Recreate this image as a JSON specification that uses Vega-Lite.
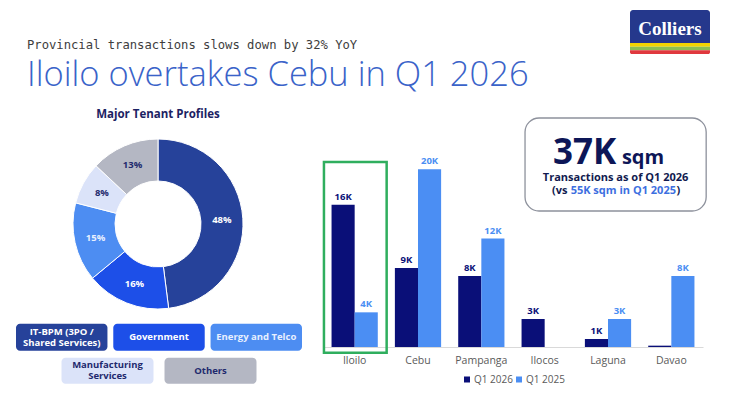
{
  "$schema": "https://vega.github.io/schema/vega-lite/v6.json",
  "background": "white",
  "padding": {"left": 16, "top": 10, "right": 0, "bottom": 0},
  "config": {"view": {"stroke": null}, "font": "Open Sans"},
  "datasets": {
    "tenants": [
      {"category": "IT-BPM (3PO / Shared Services)", "label": "IT-BPM (3PO /\nShared Services)", "share": 0.48, "rank": 1},
      {"category": "Government", "label": "Government", "share": 0.16, "rank": 2},
      {"category": "Energy and Telco", "label": "Energy and Telco", "share": 0.15, "rank": 3},
      {"category": "Manufacturing Services", "label": "Manufacturing\nServices", "share": 0.08, "rank": 4},
      {"category": "Others", "label": "Others", "share": 0.13, "rank": 5}
    ],
    "transactions": [
      {"province": "Iloilo", "period": "Q1 2026", "sqm_k": 16.0, "label": "16K"},
      {"province": "Iloilo", "period": "Q1 2025", "sqm_k": 3.9, "label": "4K"},
      {"province": "Cebu", "period": "Q1 2026", "sqm_k": 8.9, "label": "9K"},
      {"province": "Cebu", "period": "Q1 2025", "sqm_k": 20.0, "label": "20K"},
      {"province": "Pampanga", "period": "Q1 2026", "sqm_k": 8.0, "label": "8K"},
      {"province": "Pampanga", "period": "Q1 2025", "sqm_k": 12.2, "label": "12K"},
      {"province": "Ilocos", "period": "Q1 2026", "sqm_k": 3.15, "label": "3K"},
      {"province": "Ilocos", "period": "Q1 2025", "sqm_k": 0, "label": ""},
      {"province": "Laguna", "period": "Q1 2026", "sqm_k": 0.9, "label": "1K"},
      {"province": "Laguna", "period": "Q1 2025", "sqm_k": 3.15, "label": "3K"},
      {"province": "Davao", "period": "Q1 2026", "sqm_k": 0.15, "label": ""},
      {"province": "Davao", "period": "Q1 2025", "sqm_k": 8.0, "label": "8K"}
    ]
  },
  "spacing": 16,
  "resolve": {"scale": {"color": "independent", "fill": "independent"}},
  "vconcat": [
    {
      "bounds": "flush",
      "spacing": 14,
      "hconcat": [
        {
          "width": 600,
          "height": 82,
          "title": {
            "text": "Provincial transactions slows down by 32% YoY",
            "subtitle": "Iloilo overtakes Cebu in Q1 2026",
            "anchor": "start",
            "orient": "top",
            "frame": "group",
            "offset": -82,
            "dx": 11,
            "font": "DejaVu Sans Mono",
            "fontSize": 12.2,
            "fontWeight": "normal",
            "color": "#3d3d3d",
            "subtitleFont": "Open Sans",
            "subtitleFontSize": 34.5,
            "subtitleFontWeight": 300,
            "subtitleColor": "#3a63c9",
            "subtitlePadding": 7
          },
          "data": {"values": [{}]},
          "mark": {"type": "text"},
          "encoding": {"text": {"value": ""}}
        },
        {
          "width": 80,
          "height": 44,
          "data": {"values": [{"brand": "Colliers"}]},
          "layer": [
            {
              "mark": {"type": "rect", "color": "#25388c", "cornerRadiusTopLeft": 3, "cornerRadiusTopRight": 3},
              "encoding": {
                "x": {"datum": 0, "type": "quantitative", "scale": {"domain": [0, 1], "nice": false}, "axis": null},
                "x2": {"datum": 1},
                "y": {"datum": 44, "type": "quantitative", "scale": {"domain": [0, 44], "nice": false}, "axis": null},
                "y2": {"datum": 11}
              }
            },
            {
              "mark": {"type": "rect", "color": "#f2d500"},
              "encoding": {"x": {"datum": 0, "type": "quantitative"}, "x2": {"datum": 1}, "y": {"datum": 11, "type": "quantitative"}, "y2": {"datum": 7.3}}
            },
            {
              "mark": {"type": "rect", "color": "#8cc152"},
              "encoding": {"x": {"datum": 0, "type": "quantitative"}, "x2": {"datum": 1}, "y": {"datum": 7.3, "type": "quantitative"}, "y2": {"datum": 3.7}}
            },
            {
              "mark": {"type": "rect", "color": "#e0383e", "cornerRadiusBottomLeft": 3, "cornerRadiusBottomRight": 3},
              "encoding": {"x": {"datum": 0, "type": "quantitative"}, "x2": {"datum": 1}, "y": {"datum": 3.7, "type": "quantitative"}, "y2": {"datum": 0}}
            },
            {
              "mark": {"type": "text", "font": "Liberation Serif", "fontSize": 19, "fontWeight": "bold", "color": "white", "baseline": "alphabetic", "align": "center"},
              "encoding": {"x": {"datum": 0.5, "type": "quantitative"}, "y": {"datum": 19, "type": "quantitative"}, "text": {"field": "brand"}}
            }
          ]
        }
      ]
    },
    {
      "spacing": 20,
      "resolve": {"scale": {"color": "independent", "fill": "independent"}},
      "hconcat": [
        {
          "center": true,
          "spacing": 12.7,
          "vconcat": [
            {
              "width": 170,
              "height": 170,
              "title": {"text": "Major Tenant Profiles", "fontSize": 11.5, "fontWeight": "bold", "color": "#1c2263", "offset": 17, "anchor": "middle"},
              "data": {"name": "tenants"},
              "encoding": {
                "theta": {"field": "share", "type": "quantitative", "stack": true},
                "order": {"field": "rank", "type": "quantitative"}
              },
              "layer": [
                {
                  "mark": {"type": "arc", "outerRadius": 85, "innerRadius": 43, "stroke": "white", "strokeWidth": 1},
                  "encoding": {
                    "color": {"field": "category", "type": "nominal", "legend": null,
                      "scale": {"domain": ["IT-BPM (3PO / Shared Services)", "Government", "Energy and Telco", "Manufacturing Services", "Others"],
                        "range": ["#26429a", "#1d4fe8", "#4d8df2", "#dbe3f9", "#b4b7c3"]}}
                  }
                },
                {
                  "mark": {"type": "text", "radius": 64, "fontSize": 9.5, "fontWeight": "bold"},
                  "encoding": {
                    "text": {"field": "share", "type": "quantitative", "format": ".0%"},
                    "fill": {"field": "category", "type": "nominal", "legend": null,
                      "scale": {"domain": ["IT-BPM (3PO / Shared Services)", "Government", "Energy and Telco", "Manufacturing Services", "Others"],
                        "range": ["#ffffff", "#ffffff", "#e8f0ff", "#1f2a6e", "#1f2a6e"]}}
                  }
                }
              ]
            },
            {
              "bounds": "flush",
              "center": true,
              "spacing": 7,
              "vconcat": [
                {
                  "width": 286,
                  "height": 27,
                  "data": {"name": "tenants"},
                  "transform": [{"filter": {"field": "category", "oneOf": ["IT-BPM (3PO / Shared Services)", "Government", "Energy and Telco"]}}],
                  "encoding": {
                    "x": {"field": "category", "type": "nominal", "axis": null,
                      "scale": {"domain": ["IT-BPM (3PO / Shared Services)", "Government", "Energy and Telco"], "paddingInner": 0.06, "paddingOuter": 0}}
                  },
                  "layer": [
                    {
                      "mark": {"type": "rect", "cornerRadius": 4},
                      "encoding": {
                        "y": {"datum": 0, "type": "quantitative", "scale": {"domain": [0, 1], "nice": false}, "axis": null},
                        "y2": {"datum": 1},
                        "color": {"field": "category", "type": "nominal", "legend": null,
                          "scale": {"domain": ["IT-BPM (3PO / Shared Services)", "Government", "Energy and Telco", "Manufacturing Services", "Others"],
                            "range": ["#26429a", "#1d4fe8", "#4d8df2", "#dbe3f9", "#b4b7c3"]}}
                      }
                    },
                    {
                      "transform": [{"filter": "indexof(datum.label, '\\n') < 0"}],
                      "mark": {"type": "text", "fontSize": 9.5, "fontWeight": "bold", "baseline": "middle"},
                      "encoding": {
                        "y": {"datum": 0.5, "type": "quantitative"},
                        "text": {"field": "label"},
                        "fill": {"field": "category", "type": "nominal", "legend": null,
                          "scale": {"domain": ["IT-BPM (3PO / Shared Services)", "Government", "Energy and Telco", "Manufacturing Services", "Others"],
                            "range": ["#ffffff", "#ffffff", "#e8f0ff", "#1f2a6e", "#1f2a6e"]}}
                      }
                    },
                    {
                      "transform": [{"filter": "indexof(datum.label, '\\n') >= 0"}],
                      "mark": {"type": "text", "fontSize": 9.5, "fontWeight": "bold", "lineBreak": "\n", "lineHeight": 11, "baseline": "middle", "dy": -5.5},
                      "encoding": {
                        "y": {"datum": 0.5, "type": "quantitative"},
                        "text": {"field": "label"},
                        "fill": {"field": "category", "type": "nominal", "legend": null,
                          "scale": {"domain": ["IT-BPM (3PO / Shared Services)", "Government", "Energy and Telco", "Manufacturing Services", "Others"],
                            "range": ["#ffffff", "#ffffff", "#e8f0ff", "#1f2a6e", "#1f2a6e"]}}
                      }
                    }
                  ]
                },
                {
                  "width": 195,
                  "height": 26,
                  "data": {"name": "tenants"},
                  "transform": [{"filter": {"field": "category", "oneOf": ["Manufacturing Services", "Others"]}}],
                  "encoding": {
                    "x": {"field": "category", "type": "nominal", "axis": null,
                      "scale": {"domain": ["Manufacturing Services", "Others"], "paddingInner": 0.107, "paddingOuter": 0}}
                  },
                  "layer": [
                    {
                      "mark": {"type": "rect", "cornerRadius": 4},
                      "encoding": {
                        "y": {"datum": 0, "type": "quantitative", "scale": {"domain": [0, 1], "nice": false}, "axis": null},
                        "y2": {"datum": 1},
                        "color": {"field": "category", "type": "nominal", "legend": null,
                          "scale": {"domain": ["IT-BPM (3PO / Shared Services)", "Government", "Energy and Telco", "Manufacturing Services", "Others"],
                            "range": ["#26429a", "#1d4fe8", "#4d8df2", "#dbe3f9", "#b4b7c3"]}}
                      }
                    },
                    {
                      "transform": [{"filter": "indexof(datum.label, '\\n') < 0"}],
                      "mark": {"type": "text", "fontSize": 9.5, "fontWeight": "bold", "baseline": "middle"},
                      "encoding": {
                        "y": {"datum": 0.5, "type": "quantitative"},
                        "text": {"field": "label"},
                        "fill": {"field": "category", "type": "nominal", "legend": null,
                          "scale": {"domain": ["IT-BPM (3PO / Shared Services)", "Government", "Energy and Telco", "Manufacturing Services", "Others"],
                            "range": ["#ffffff", "#ffffff", "#e8f0ff", "#1f2a6e", "#1f2a6e"]}}
                      }
                    },
                    {
                      "transform": [{"filter": "indexof(datum.label, '\\n') >= 0"}],
                      "mark": {"type": "text", "fontSize": 9.5, "fontWeight": "bold", "lineBreak": "\n", "lineHeight": 11, "baseline": "middle", "dy": -5.5},
                      "encoding": {
                        "y": {"datum": 0.5, "type": "quantitative"},
                        "text": {"field": "label"},
                        "fill": {"field": "category", "type": "nominal", "legend": null,
                          "scale": {"domain": ["IT-BPM (3PO / Shared Services)", "Government", "Energy and Telco", "Manufacturing Services", "Others"],
                            "range": ["#ffffff", "#ffffff", "#e8f0ff", "#1f2a6e", "#1f2a6e"]}}
                      }
                    }
                  ]
                }
              ]
            }
          ]
        },
        {
          "width": 380,
          "height": 208,
          "resolve": {"scale": {"x": "independent"}},
          "layer": [
            {
              "data": {"name": "transactions"},
              "encoding": {
                "x": {"field": "province", "type": "nominal",
                  "scale": {"domain": ["Iloilo", "Cebu", "Pampanga", "Ilocos", "Laguna", "Davao"], "paddingInner": 0.27, "paddingOuter": 0.135},
                  "axis": {"title": null, "ticks": false, "labelAngle": 0, "labelFontSize": 10.5, "labelColor": "#5a5a5a", "labelPadding": 8, "domainColor": "#d9d9d9"}},
                "xOffset": {"field": "period", "type": "nominal", "scale": {"domain": ["Q1 2026", "Q1 2025"], "paddingInner": 0, "paddingOuter": 0}},
                "y": {"field": "sqm_k", "type": "quantitative", "scale": {"domain": [0, 23.4], "nice": false}, "axis": null},
                "color": {"field": "period", "type": "nominal",
                  "scale": {"domain": ["Q1 2026", "Q1 2025"], "range": ["#0a0f78", "#4b8ef3"]},
                  "legend": {"title": null, "orient": "none", "legendX": 139, "legendY": 235.5, "direction": "horizontal", "symbolType": "square", "symbolSize": 36, "labelFontSize": 10, "labelColor": "#5a5a5a", "columnPadding": 1, "labelOffset": 2}}
              },
              "layer": [
                {"mark": {"type": "bar"}},
                {
                  "mark": {"type": "text", "baseline": "bottom", "dy": -3, "fontSize": 9.5, "fontWeight": "bold"},
                  "encoding": {"text": {"field": "label"}}
                }
              ]
            },
            {
              "data": {"values": [{}]},
              "layer": [
                {
                  "mark": {"type": "rect", "filled": false, "stroke": "#2fae5e", "strokeWidth": 2.5},
                  "encoding": {
                    "x": {"datum": 0.015, "type": "quantitative", "scale": {"domain": [0, 6], "nice": false, "zero": false}, "axis": null},
                    "x2": {"datum": 1.005},
                    "y": {"datum": 20.81, "type": "quantitative"},
                    "y2": {"datum": -0.64}
                  }
                },
                {
                  "mark": {"type": "rect", "filled": false, "stroke": "#8d919c", "strokeWidth": 1.3, "cornerRadius": 14},
                  "encoding": {
                    "x": {"datum": 3.19, "type": "quantitative"},
                    "x2": {"datum": 6.05},
                    "y": {"datum": 25.76, "type": "quantitative"},
                    "y2": {"datum": 15.3}
                  }
                },
                {
                  "mark": {"type": "text", "align": "right", "baseline": "alphabetic", "fontSize": 35, "fontWeight": "bold", "color": "#0d1657"},
                  "encoding": {"x": {"datum": 4.63, "type": "quantitative"}, "y": {"datum": 20.59, "type": "quantitative"}, "text": {"value": "37K"}}
                },
                {
                  "mark": {"type": "text", "align": "left", "baseline": "alphabetic", "fontSize": 20, "fontWeight": "bold", "color": "#0d1657"},
                  "encoding": {"x": {"datum": 4.72, "type": "quantitative"}, "y": {"datum": 20.59, "type": "quantitative"}, "text": {"value": "sqm"}}
                },
                {
                  "mark": {"type": "text", "align": "center", "baseline": "middle", "fontSize": 11, "fontWeight": "bold", "color": "#111a4f"},
                  "encoding": {"x": {"datum": 4.62, "type": "quantitative"}, "y": {"datum": 19.0, "type": "quantitative"}, "text": {"value": "Transactions as of Q1 2026"}}
                },
                {
                  "mark": {"type": "text", "align": "right", "baseline": "middle", "fontSize": 11, "fontWeight": "bold", "color": "#111a4f"},
                  "encoding": {"x": {"datum": 3.86, "type": "quantitative"}, "y": {"datum": 17.5, "type": "quantitative"}, "text": {"value": "(vs"}}
                },
                {
                  "mark": {"type": "text", "align": "left", "baseline": "middle", "fontSize": 11, "fontWeight": "bold", "color": "#3d6fe0"},
                  "encoding": {"x": {"datum": 3.91, "type": "quantitative"}, "y": {"datum": 17.5, "type": "quantitative"}, "text": {"value": "55K sqm in Q1 2025"}}
                },
                {
                  "mark": {"type": "text", "align": "left", "baseline": "middle", "fontSize": 11, "fontWeight": "bold", "color": "#111a4f"},
                  "encoding": {"x": {"datum": 5.582, "type": "quantitative"}, "y": {"datum": 17.5, "type": "quantitative"}, "text": {"value": ")"}}
                }
              ]
            }
          ]
        }
      ]
    }
  ]
}
